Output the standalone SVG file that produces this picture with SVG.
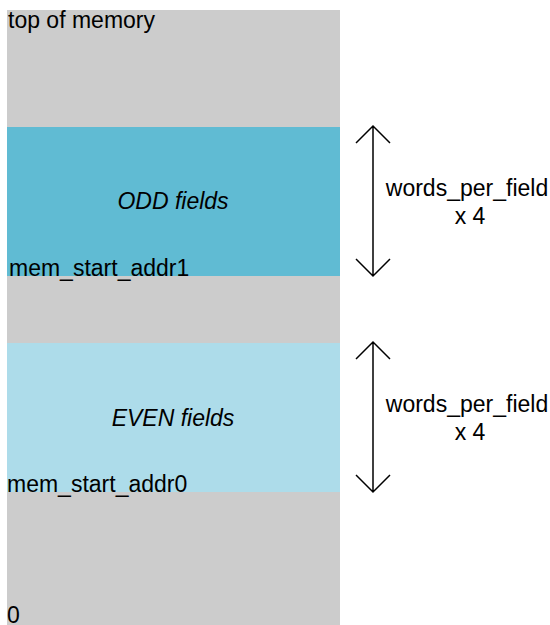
<svg xmlns="http://www.w3.org/2000/svg" width="550" height="625" viewBox="0 0 550 625">
<style>
text{font-family:"Liberation Sans",Arial,sans-serif;font-size:23px;fill:#000}
.it{font-style:italic}
.mid{text-anchor:middle}
.arr{stroke:#000;stroke-width:1.5;fill:none}
</style>
<rect width="550" height="625" fill="#fff"/>
<g id="memory">
<rect x="7" y="10" width="333" height="615" fill="#cccccc"/>
<text x="8" y="28">top of memory</text>
<text x="7" y="623">0</text>
</g>
<g id="odd">
<rect x="7" y="127" width="333" height="149" fill="#60bbd3"/>
<text class="it mid" x="173" y="209">ODD fields</text>
<text x="9" y="276">mem_start_addr1</text>
</g>
<g id="even">
<rect x="7" y="343" width="333" height="149" fill="#addcea"/>
<text class="it mid" x="173" y="426">EVEN fields</text>
<text x="7" y="492">mem_start_addr0</text>
</g>
<g id="connectors">
<path class="arr" d="M373 126V276M356 143L373 126L390 143M356 259L373 276L390 259"/>
<path class="arr" d="M373 342V492M356 359L373 342L390 359M356 475L373 492L390 475"/>
</g>
<g id="labels">
<text class="mid" x="467" y="196">words_per_field</text>
<text class="mid" x="470" y="224">x 4</text>
<text class="mid" x="467" y="412">words_per_field</text>
<text class="mid" x="470" y="440">x 4</text>
</g>
</svg>
